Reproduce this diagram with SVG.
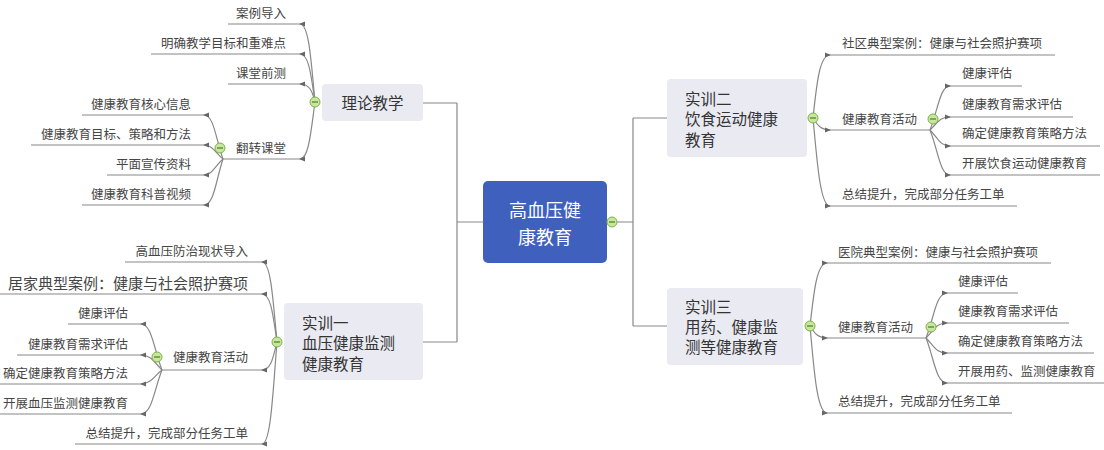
<svg xmlns="http://www.w3.org/2000/svg" width="1104" height="450" viewBox="0 0 1104 450">
<defs>
<marker id="ah" viewBox="0 0 6 6" refX="5" refY="3" markerWidth="6" markerHeight="6" orient="auto" markerUnits="userSpaceOnUse">
<path d="M0,0.5 L6,3 L0,5.5 Z" fill="#666"/>
</marker>
<style>
.c{fill:none;stroke:#888;stroke-width:1.2}
.u{fill:none;stroke:#888;stroke-width:1.2}
.t{font-family:"Noto Sans CJK SC","Noto Sans",sans-serif;font-size:12.5px;fill:#454545}
.tr{text-anchor:end}
.big{font-size:15px}
.s{font-family:"Noto Sans CJK SC","Noto Sans",sans-serif;font-size:15.5px;fill:#333}
.sb{fill:#E9EAF2}
.m{font-family:"Noto Sans CJK SC","Noto Sans",sans-serif;font-size:18px;fill:#fff;text-anchor:middle}
.tg{fill:#C8E6A0;stroke:#7CB342;stroke-width:1}
.tl{stroke:#4E7D24;stroke-width:1.2}
</style>
</defs>

<g id="connectors">
<!-- trunk -->
<path class="c" d="M483,222 H457 M457,103 V342 M423,103 H457 M423,342 H457"/>
<path class="c" d="M607,222 H633 M633,118 V326 M633,118 H667 M633,326 H667"/>
<!-- theory children -->
<path class="c" marker-end="url(#ah)" d="M315,102 C311,60 309,24 300,24"/>
<path class="c" marker-end="url(#ah)" d="M315,102 C311,75 309,54 300,54"/>
<path class="c" marker-end="url(#ah)" d="M315,102 C312,90 309,84 300,84"/>
<path class="c" marker-end="url(#ah)" d="M315,102 C311,130 309,159 300,159"/>
<path class="u" d="M228,24 H300 M151,54 H300 M228,84 H300 M222,159 H300"/>
<path class="c" marker-end="url(#ah)" d="M223,159 C216,140 214,115 204,115"/>
<path class="c" marker-end="url(#ah)" d="M223,159 C215,152 212,145 204,145"/>
<path class="c" marker-end="url(#ah)" d="M223,159 C215,166 212,175 204,175"/>
<path class="c" marker-end="url(#ah)" d="M223,159 C216,180 214,205 204,205"/>
<path class="u" d="M82,115 H204 M31,145 H204 M107,175 H204 M82,205 H204"/>
<!-- 实训一 children -->
<path class="c" marker-end="url(#ah)" d="M277,342 C273,300 271,262 262,262"/>
<path class="c" marker-end="url(#ah)" d="M277,342 C273,315 271,294 262,294"/>
<path class="c" marker-end="url(#ah)" d="M277,342 C273,358 271,370 262,370"/>
<path class="c" marker-end="url(#ah)" d="M277,342 C273,390 271,444 262,444"/>
<path class="u" d="M125,262 H262 M0,294 H262 M162,370 H262 M75,444 H262"/>
<path class="c" marker-end="url(#ah)" d="M162,370 C154,350 152,324 141,324"/>
<path class="c" marker-end="url(#ah)" d="M162,370 C154,362 151,355 141,355"/>
<path class="c" marker-end="url(#ah)" d="M162,370 C154,376 151,384 141,384"/>
<path class="c" marker-end="url(#ah)" d="M162,370 C154,390 152,414 141,414"/>
<path class="u" d="M68,324 H141 M17,355 H141 M0,384 H141 M0,414 H141"/>
<!-- 实训二 children -->
<path class="c" marker-end="url(#ah)" d="M813,118 C817,80 820,55 830,55"/>
<path class="c" marker-end="url(#ah)" d="M813,118 C817,124 820,130 830,130"/>
<path class="c" marker-end="url(#ah)" d="M813,118 C817,160 820,206 830,206"/>
<path class="u" d="M830,55 H1055 M830,130 H930 M830,206 H1017"/>
<path class="c" marker-end="url(#ah)" d="M930,130 C938,110 940,86 950,86"/>
<path class="c" marker-end="url(#ah)" d="M930,130 C938,122 940,117 950,117"/>
<path class="c" marker-end="url(#ah)" d="M930,130 C938,138 940,146 950,146"/>
<path class="c" marker-end="url(#ah)" d="M930,130 C938,150 940,175 950,175"/>
<path class="u" d="M950,86 H1022 M950,117 H1073 M950,146 H1100 M950,175 H1100"/>
<!-- 实训三 children -->
<path class="c" marker-end="url(#ah)" d="M810,326 C814,290 817,263 827,263"/>
<path class="c" marker-end="url(#ah)" d="M810,326 C814,332 817,338 827,338"/>
<path class="c" marker-end="url(#ah)" d="M810,326 C814,370 817,413 827,413"/>
<path class="u" d="M827,263 H1051 M827,338 H926 M827,413 H1012"/>
<path class="c" marker-end="url(#ah)" d="M926,338 C934,318 936,293 947,293"/>
<path class="c" marker-end="url(#ah)" d="M926,338 C934,330 936,323 947,323"/>
<path class="c" marker-end="url(#ah)" d="M926,338 C934,346 936,353 947,353"/>
<path class="c" marker-end="url(#ah)" d="M926,338 C934,358 936,383 947,383"/>
<path class="u" d="M947,293 H1018 M947,323 H1069 M947,353 H1094 M947,383 H1104"/>
</g>

<g id="root">
<rect x="483" y="181" width="124" height="82" rx="5" fill="#4060BE"/>
<text class="m" x="545" y="216.5">高血压健</text>
<text class="m" x="545" y="243.5">康教育</text>
<circle class="tg" cx="612" cy="222" r="5"/><line class="tl" x1="609" y1="222" x2="615" y2="222"/>
</g>

<g id="theory">
<rect class="sb" x="322" y="84" width="101" height="37" rx="4"/>
<text class="s" x="372.5" y="108.5" text-anchor="middle">理论教学</text>
<circle class="tg" cx="315" cy="102" r="5"/><line class="tl" x1="312" y1="102" x2="318" y2="102"/>
</g>
<g id="t-1"><text class="t tr" x="286" y="17.5">案例导入</text></g>
<g id="t-2"><text class="t tr" x="286" y="47.5">明确教学目标和重难点</text></g>
<g id="t-3"><text class="t tr" x="286" y="77.5">课堂前测</text></g>
<g id="t-4"><text class="t tr" x="286" y="152.5">翻转课堂</text>
<circle class="tg" cx="220" cy="148" r="5"/><line class="tl" x1="217" y1="148" x2="223" y2="148"/></g>
<g id="t-4-1"><text class="t tr" x="191" y="108.5">健康教育核心信息</text></g>
<g id="t-4-2"><text class="t tr" x="191" y="138.5">健康教育目标、策略和方法</text></g>
<g id="t-4-3"><text class="t tr" x="191" y="168.5">平面宣传资料</text></g>
<g id="t-4-4"><text class="t tr" x="191" y="198.5">健康教育科普视频</text></g>

<g id="sx1">
<rect class="sb" x="284" y="303" width="139" height="77" rx="4"/>
<text class="s" x="302" y="328.5">实训一</text>
<text class="s" x="302" y="348.5">血压健康监测</text>
<text class="s" x="302" y="369.5">健康教育</text>
<circle class="tg" cx="277" cy="342" r="5"/><line class="tl" x1="274" y1="342" x2="280" y2="342"/>
</g>
<g id="s1-1"><text class="t tr" x="248" y="255.5">高血压防治现状导入</text></g>
<g id="s1-2"><text class="t tr big" x="248" y="288.5">居家典型案例：健康与社会照护赛项</text></g>
<g id="s1-3"><text class="t tr" x="248" y="361.5">健康教育活动</text>
<circle class="tg" cx="157" cy="357" r="5"/><line class="tl" x1="154" y1="357" x2="160" y2="357"/></g>
<g id="s1-3-1"><text class="t tr" x="128" y="317.5">健康评估</text></g>
<g id="s1-3-2"><text class="t tr" x="128" y="348.5">健康教育需求评估</text></g>
<g id="s1-3-3"><text class="t tr" x="128" y="377.5">确定健康教育策略方法</text></g>
<g id="s1-3-4"><text class="t tr" x="128" y="407.5">开展血压监测健康教育</text></g>
<g id="s1-4"><text class="t tr" x="248" y="437.5">总结提升，完成部分任务工单</text></g>

<g id="sx2">
<rect class="sb" x="667" y="79" width="140" height="78" rx="4"/>
<text class="s" x="685" y="104.5">实训二</text>
<text class="s" x="685" y="124.5">饮食运动健康</text>
<text class="s" x="685" y="145.5">教育</text>
<circle class="tg" cx="813" cy="118" r="5"/><line class="tl" x1="810" y1="118" x2="816" y2="118"/>
</g>
<g id="s2-1"><text class="t" x="842" y="48">社区典型案例：健康与社会照护赛项</text></g>
<g id="s2-2"><text class="t" x="842" y="123.5">健康教育活动</text>
<circle class="tg" cx="933" cy="119" r="5"/><line class="tl" x1="930" y1="119" x2="936" y2="119"/></g>
<g id="s2-2-1"><text class="t" x="962" y="77.5">健康评估</text></g>
<g id="s2-2-2"><text class="t" x="962" y="108.5">健康教育需求评估</text></g>
<g id="s2-2-3"><text class="t" x="962" y="138">确定健康教育策略方法</text></g>
<g id="s2-2-4"><text class="t" x="962" y="167.5">开展饮食运动健康教育</text></g>
<g id="s2-3"><text class="t" x="842" y="198.5">总结提升，完成部分任务工单</text></g>

<g id="sx3">
<rect class="sb" x="667" y="288" width="136" height="77" rx="4"/>
<text class="s" x="685" y="312.5">实训三</text>
<text class="s" x="685" y="332.5">用药、健康监</text>
<text class="s" x="685" y="352.5">测等健康教育</text>
<circle class="tg" cx="810" cy="326" r="5"/><line class="tl" x1="807" y1="326" x2="813" y2="326"/>
</g>
<g id="s3-1"><text class="t" x="838" y="256.5">医院典型案例：健康与社会照护赛项</text></g>
<g id="s3-2"><text class="t" x="838" y="331.5">健康教育活动</text>
<circle class="tg" cx="931" cy="327" r="5"/><line class="tl" x1="928" y1="327" x2="934" y2="327"/></g>
<g id="s3-2-1"><text class="t" x="958" y="286">健康评估</text></g>
<g id="s3-2-2"><text class="t" x="958" y="315.5">健康教育需求评估</text></g>
<g id="s3-2-3"><text class="t" x="958" y="345.5">确定健康教育策略方法</text></g>
<g id="s3-2-4"><text class="t" x="958" y="375.5">开展用药、监测健康教育</text></g>
<g id="s3-3"><text class="t" x="838" y="406">总结提升，完成部分任务工单</text></g>
</svg>
